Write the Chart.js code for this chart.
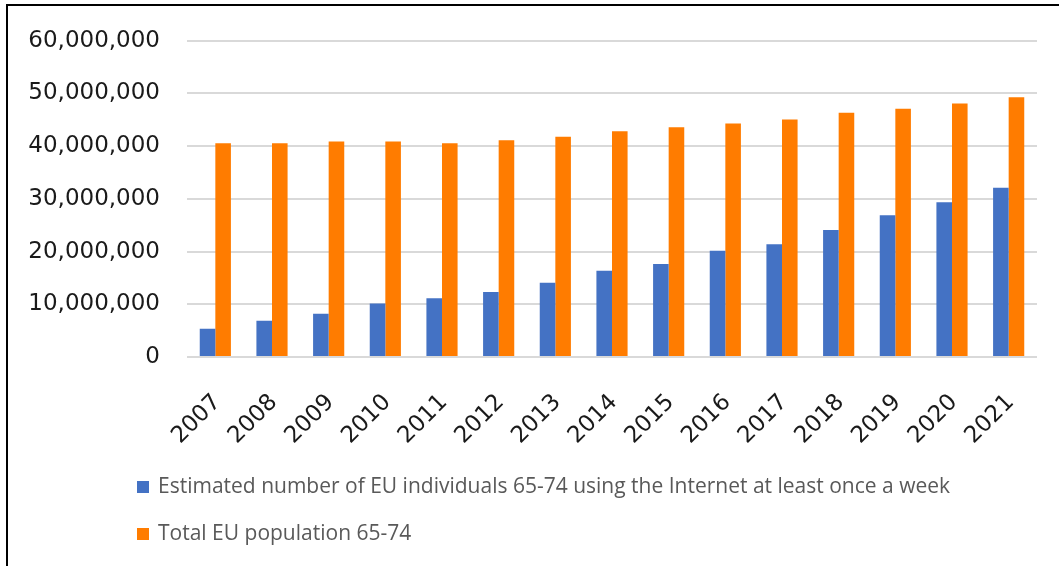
<!DOCTYPE html>
<html>
<head>
<meta charset="utf-8">
<script src="https://cdn.jsdelivr.net/npm/chart.js@4.4.0/dist/chart.umd.min.js"></script>
<style>
  html, body { margin: 0; padding: 0; background: #fff; overflow: hidden; }
  #frame { position: absolute; left: 6px; top: 4px; width: 2000px; height: 2000px;
           border-left: 2px solid #000; border-top: 2px solid #000; }
  #chart { position: absolute; left: 0; top: 0; }
</style>
</head>
<body>
<div id="frame"></div>
<canvas id="chart" width="1059" height="566"></canvas>
<script>
const years = ["2007", "2008", "2009", "2010", "2011", "2012", "2013", "2014",
               "2015", "2016", "2017", "2018", "2019", "2020", "2021"];
const internetUsers = [5350000, 6860000, 8190000, 10140000, 11150000, 12340000, 14100000, 16370000,
                       17630000, 20150000, 21410000, 24120000, 26890000, 29350000, 32120000];
const population = [40550000, 40550000, 40870000, 40870000, 40550000, 41120000, 41810000, 42820000,
                    43580000, 44330000, 45090000, 46350000, 47100000, 48110000, 49310000];
const yTicks = [0, 10000000, 20000000, 30000000, 40000000, 50000000, 60000000];

// legend stacked vertically under the axis, drawn from the datasets
const stackedLegend = {
    id: "stackedLegend",
    afterDraw(chart) {
        const ctx = chart.ctx;
        ctx.save();
        ctx.font = "21px 'Open Sans'";
        ctx.textBaseline = "middle";
        ctx.textAlign = "left";
        chart.data.datasets.forEach((ds, i) => {
            const y = 487 + i * 47;
            ctx.fillStyle = ds.backgroundColor;
            ctx.fillRect(137, y - 6, 12, 12);
            ctx.fillStyle = "#595959";
            ctx.fillText(ds.label, 158, y);
        });
        ctx.restore();
    }
};

new Chart(document.getElementById("chart"), {
    type: "bar",
    data: {
        labels: years,
        datasets: [
            {
                label: "Estimated number of EU individuals 65-74 using the Internet at least once a week",
                data: internetUsers,
                backgroundColor: "#4472C4"
            },
            {
                label: "Total EU population 65-74",
                data: population,
                backgroundColor: "#FF7C00"
            }
        ]
    },
    options: {
        responsive: false,
        devicePixelRatio: 1,
        animation: false,
        categoryPercentage: 0.55,
        barPercentage: 1.0,
        layout: { padding: { top: 39, right: 22, left: 0, bottom: 0 } },
        plugins: {
            legend: { display: false },
            tooltip: { enabled: false }
        },
        scales: {
            x: {
                grid: { display: false, drawTicks: false },
                border: { display: false },
                ticks: {
                    color: "#1a1a1a",
                    font: { family: "DejaVu Sans", size: 23 },
                    minRotation: 45,
                    maxRotation: 45,
                    padding: 32,
                    labelOffset: 2
                },
                afterFit(s) {
                    s.height = 209;
                    s.paddingLeft = 0;
                    s.paddingRight = 0;
                }
            },
            y: {
                min: 0,
                max: 60000000,
                afterBuildTicks(s) { s.ticks = yTicks.map(v => ({ value: v })); },
                grid: { color: "#d9d9d9", lineWidth: 2, drawTicks: false },
                border: { display: false },
                ticks: {
                    color: "#1a1a1a",
                    font: { family: "DejaVu Sans", size: 23 },
                    padding: 27,
                    callback: v => v.toLocaleString("en-US")
                },
                afterFit(s) { s.width = 187; }
            }
        }
    },
    plugins: [stackedLegend]
});
</script>
</body>
</html>
